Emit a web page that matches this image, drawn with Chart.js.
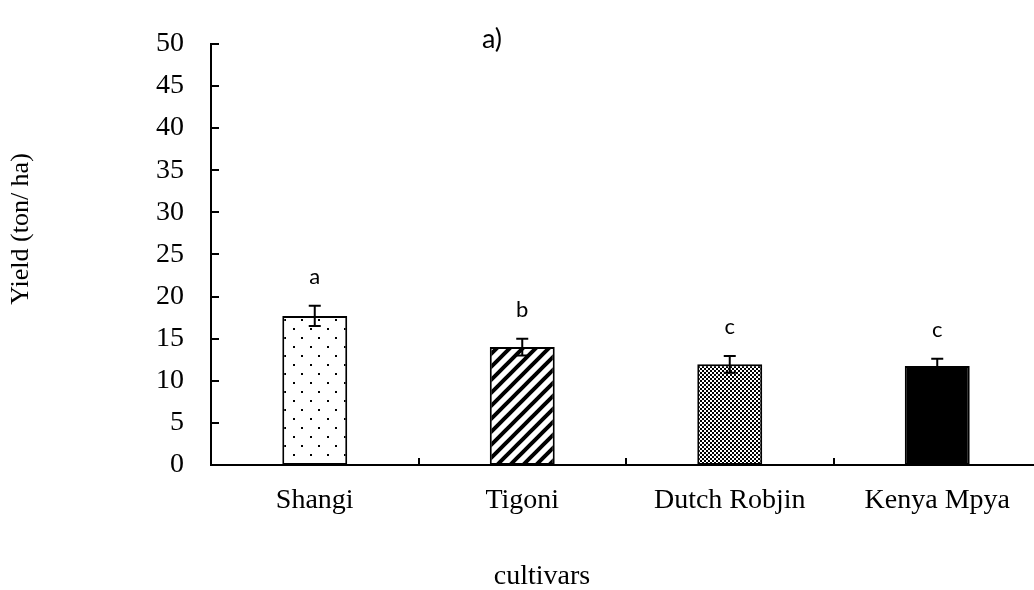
<!DOCTYPE html>
<html>
<head>
<meta charset="utf-8">
<script src="https://cdn.jsdelivr.net/npm/chart.js@4"></script>
<style>
  html, body { margin: 0; padding: 0; background: #fff; overflow: hidden; }
  #wrap { width: 1034px; height: 590px; overflow: hidden; }
</style>
</head>
<body>
<div id="wrap"><canvas id="myChart" width="1042" height="590"></canvas></div>
<script>
const categories = ["Shangi", "Tigoni", "Dutch Robjin", "Kenya Mpya"];
const yieldMeans = [17.7, 14.0, 11.95, 11.75];
const yieldErr = [1.2, 1.0, 1.0, 0.85];
const groupLetters = ["a", "b", "c", "c"];
const yTicks = [0, 5, 10, 15, 20, 25, 30, 35, 40, 45, 50];

const serif = "'Liberation Serif', 'Times New Roman', serif";
const sans = "Lato, 'Open Sans', sans-serif";

// fill patterns for the four bars
function makeTile(w, h, draw) {
  const c = document.createElement("canvas");
  c.width = w; c.height = h;
  const g = c.getContext("2d");
  g.fillStyle = "#fff";
  g.fillRect(0, 0, w, h);
  draw(g);
  return document.createElement("canvas").getContext("2d").createPattern(c, "repeat");
}

const dots = makeTile(17, 18, g => {
  g.fillStyle = "#000";
  g.fillRect(4, 4, 2, 2);
  g.fillRect(12, 13, 2, 2);
});

const stripes = makeTile(13, 13, g => {
  g.strokeStyle = "#000";
  g.lineWidth = 4;
  g.beginPath();
  g.moveTo(-3, 16); g.lineTo(16, -3);
  g.moveTo(-10, 10); g.lineTo(10, -10);
  g.moveTo(3, 23); g.lineTo(23, 3);
  g.stroke();
});

const checks = makeTile(4, 4, g => {
  g.fillStyle = "#000";
  g.fillRect(0, 0, 2, 2);
  g.fillRect(2, 2, 2, 2);
});

const extras = {
  id: "extras",
  afterDatasetsDraw(chart) {
    const { ctx, chartArea } = chart;
    const x = chart.scales.x;
    const y = chart.scales.y;
    ctx.save();
    ctx.strokeStyle = "#000";
    ctx.lineWidth = 2;

    // inward ticks on y
    yTicks.forEach(v => {
      const py = Math.round(y.getPixelForValue(v));
      ctx.beginPath();
      ctx.moveTo(chartArea.left, py);
      ctx.lineTo(chartArea.left + 8, py);
      ctx.stroke();
    });
    // category separators on x
    for (let i = 0; i < categories.length - 1; i++) {
      const px = Math.round((x.getPixelForValue(i) + x.getPixelForValue(i + 1)) / 2);
      ctx.beginPath();
      ctx.moveTo(px, chartArea.bottom);
      ctx.lineTo(px, chartArea.bottom - 7);
      ctx.stroke();
    }

    // error bars + letters
    ctx.fillStyle = "#000";
    ctx.font = "22px " + sans;
    ctx.textAlign = "center";
    ctx.textBaseline = "middle";
    yieldMeans.forEach((m, i) => {
      const px = x.getPixelForValue(i);
      const top = y.getPixelForValue(m + yieldErr[i]);
      const bot = y.getPixelForValue(m - yieldErr[i]);
      ctx.beginPath();
      ctx.moveTo(px, top); ctx.lineTo(px, bot);
      ctx.moveTo(px - 6, top); ctx.lineTo(px + 6, top);
      ctx.moveTo(px - 6, bot); ctx.lineTo(px + 6, bot);
      ctx.stroke();
      ctx.fillText(groupLetters[i], px, top - 29);
    });

    ctx.font = "27px " + sans;
    ctx.fillText("a)", 492, 39);

    // axis titles
    ctx.font = "28px " + serif;
    ctx.fillText("cultivars", 542, 577);
    ctx.translate(21, 229);
    ctx.rotate(-Math.PI / 2);
    ctx.font = "26px " + serif;
    ctx.fillText("Yield (ton/ ha)", 0, 0);
    ctx.restore();
  }
};

new Chart(document.querySelector("#myChart"), {
  type: "bar",
  data: {
    labels: categories,
    datasets: [{
      data: yieldMeans,
      backgroundColor: [dots, stripes, checks, "#000"],
      borderColor: "#000",
      borderWidth: 2,
      borderSkipped: false,
      categoryPercentage: 1,
      barPercentage: 0.313
    }]
  },
  options: {
    responsive: false,
    animation: false,
    devicePixelRatio: 1,
    layout: { padding: { top: 22, right: 1, left: 0, bottom: 0 } },
    plugins: { legend: { display: false }, tooltip: { enabled: false } },
    scales: {
      x: {
        grid: { display: false, drawTicks: false },
        border: { display: true, color: "#000", width: 2 },
        ticks: { color: "#000", font: { family: serif, size: 28 }, padding: 19, maxRotation: 0 },
        afterFit(s) { s.height = 125; }
      },
      y: {
        min: 0,
        max: 50,
        grid: { display: false, drawTicks: false },
        border: { display: true, color: "#000", width: 2 },
        ticks: { stepSize: 5, color: "#000", font: { family: serif, size: 28 }, padding: 27 },
        afterFit(s) { s.width = 211; }
      }
    }
  },
  plugins: [extras]
});
</script>
</body>
</html>
